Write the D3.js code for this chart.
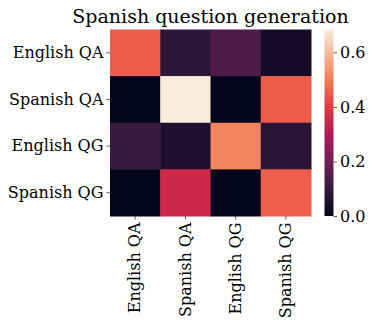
<!DOCTYPE html>
<html>
<script src="https://cdnjs.cloudflare.com/ajax/libs/d3/7.8.5/d3.min.js"></script>
<style>
  body {margin: 0; background: #fff;}
  text {font-family: "DejaVu Serif", serif; fill: #000;}
</style>
<body>
<div id="chart"></div>
<script>
  const rowLabels = ["English QA", "Spanish QA", "English QG", "Spanish QG"];
  const colLabels = ["English QA", "Spanish QA", "English QG", "Spanish QG"];
  const values = [
    [0.45, 0.08, 0.14, 0.035],
    [0.0, 0.684, 0.0, 0.45],
    [0.098, 0.055, 0.51, 0.075],
    [0.0, 0.355, 0.0, 0.455]
  ];
  const cbarTicks = [0.0, 0.2, 0.4, 0.6];
  const title = "Spanish question generation";

  // rocket colormap stops
  const rocket = ["#03051a", "#35193e", "#701f57", "#ad1759", "#e13342", "#f37651", "#f6b48f", "#faebdd"];

  const width = 374, height = 327;
  const hm = {left: 110, top: 29.5, right: 311, bottom: 216};
  const vmax = d3.max(values.flat());
  const fs = 16;

  const svg = d3.select("#chart").append("svg")
    .attr("width", width)
    .attr("height", height);

  const x = d3.scaleBand().domain(colLabels.map((d, i) => i)).range([hm.left, hm.right]);
  const y = d3.scaleBand().domain(rowLabels.map((d, i) => i)).range([hm.top, hm.bottom]);
  const color = d3.scaleLinear()
    .domain(rocket.map((c, i) => i / (rocket.length - 1) * vmax))
    .range(rocket)
    .clamp(true);

  const cells = [];
  values.forEach((row, r) => row.forEach((v, c) => cells.push({r: r, c: c, v: v})));

  svg.append("g").selectAll("rect")
    .data(cells)
    .enter().append("rect")
    .attr("x", d => x(d.c))
    .attr("y", d => y(d.r))
    .attr("width", x.bandwidth() + 0.5)
    .attr("height", y.bandwidth() + 0.5)
    .attr("fill", d => color(d.v));

  // y axis
  const yAxis = svg.append("g")
    .attr("transform", "translate(" + hm.left + ",0)")
    .call(d3.axisLeft(y).tickSize(3.5).tickPadding(3).tickFormat(i => rowLabels[i]));
  yAxis.select(".domain").remove();
  yAxis.selectAll("line").attr("stroke", "#333").attr("stroke-width", 0.8);
  yAxis.selectAll("text").attr("font-size", fs).attr("font-family", "DejaVu Serif");

  // x axis
  const xAxis = svg.append("g")
    .attr("transform", "translate(0," + hm.bottom + ")")
    .call(d3.axisBottom(x).tickSize(3.5).tickPadding(3).tickFormat(i => colLabels[i]));
  xAxis.select(".domain").remove();
  xAxis.selectAll("line").attr("stroke", "#333").attr("stroke-width", 0.8);
  xAxis.selectAll("text")
    .attr("font-size", fs)
    .attr("font-family", "DejaVu Serif")
    .attr("transform", "rotate(-90)")
    .attr("text-anchor", "end")
    .attr("dy", "0.32em")
    .attr("x", -6.5)
    .attr("y", 0);

  // colorbar
  const cb = {x: 324.5, w: 9};
  const cy = d3.scaleLinear().domain([0, vmax]).range([hm.bottom, hm.top]);
  const defs = svg.append("defs");
  const grad = defs.append("linearGradient")
    .attr("id", "cbgrad")
    .attr("x1", 0).attr("y1", 1).attr("x2", 0).attr("y2", 0);
  rocket.forEach((c, i) => grad.append("stop")
    .attr("offset", i / (rocket.length - 1))
    .attr("stop-color", c));
  svg.append("rect")
    .attr("x", cb.x)
    .attr("y", cy(vmax))
    .attr("width", cb.w)
    .attr("height", cy(0) - cy(vmax))
    .attr("fill", "url(#cbgrad)");
  const cAxis = svg.append("g")
    .attr("transform", "translate(" + (cb.x + cb.w) + ",0)")
    .call(d3.axisRight(cy).tickValues(cbarTicks).tickSize(3.5).tickPadding(3).tickFormat(d3.format(".1f")));
  cAxis.select(".domain").remove();
  cAxis.selectAll("line").attr("stroke", "#333").attr("stroke-width", 0.8);
  cAxis.selectAll("text").attr("font-size", fs).attr("font-family", "DejaVu Serif");

  svg.append("text")
    .attr("x", (hm.left + hm.right) / 2)
    .attr("y", 23)
    .attr("text-anchor", "middle")
    .attr("font-size", 19)
    .text(title);
</script>
</body>
</html>
